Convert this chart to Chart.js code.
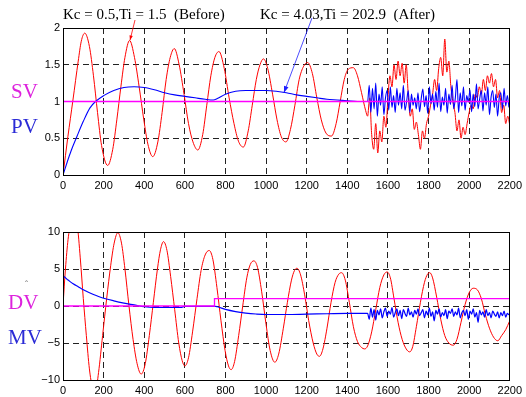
<!DOCTYPE html>
<html>
<head>
<meta charset="utf-8">
<script src="https://cdn.jsdelivr.net/npm/chart.js@4.4.1/dist/chart.umd.min.js"></script>
<style>
body { margin: 0; background: #fff; width: 526px; height: 397px; position: relative; overflow: hidden; }
canvas { position: absolute; left: 0; }
.t { position: absolute; font-family: 'Liberation Serif', serif; white-space: nowrap; line-height: 1; }
</style>
</head>
<body>
<canvas id="top_chart" width="526" height="205" style="top:0"></canvas>
<canvas id="bottom_chart" width="526" height="192" style="top:205px"></canvas>
<div class="t" style="left:63px;top:7px;font-size:15px">Kc = 0.5,Ti = 1.5&nbsp;&nbsp;(Before)</div>
<div class="t" style="left:260px;top:7px;font-size:15px">Kc = 4.03,Ti = 202.9&nbsp;&nbsp;(After)</div>
<div class="t" style="left:11px;top:81px;font-size:21px;color:#dd22dd">SV</div>
<div class="t" style="left:11px;top:116px;font-size:21px;color:#2b2bd6">PV</div>
<div class="t" style="left:25px;top:280px;font-size:9px;color:#666">ˆ</div>
<div class="t" style="left:8px;top:292px;font-size:21px;color:#dd22dd">DV</div>
<div class="t" style="left:8px;top:327px;font-size:21px;color:#2b2bd6">MV</div>
<script>
// x ticks shared by both plots
var xTicks = [0, 200, 400, 600, 800, 1000, 1200, 1400, 1600, 1800, 2000, 2200];

// ---- top plot: SV / PV ----
var svLine = [[0, 0], [0, 1], [2200, 1]];

// PV before retune (red), smooth part
var pvBefore = [[0, 0], [24, 0.52], [49, 1.02], [75, 1.55], [90, 1.82], [107, 1.93], [130, 1.75], [150, 1.35],
    [170, 0.85], [190, 0.4], [220, 0.13], [245, 0.35], [265, 0.75], [285, 1.2], [305, 1.6], [328, 1.83],
    [352, 1.6], [375, 1.2], [398, 0.75], [418, 0.42], [442, 0.25], [467, 0.45], [488, 0.85], [508, 1.3],
    [528, 1.6], [548, 1.72], [572, 1.5], [596, 1.1], [618, 0.7], [640, 0.45], [664, 0.34], [688, 0.55],
    [708, 0.95], [728, 1.35], [748, 1.6], [768, 1.68], [794, 1.45], [818, 1.05], [842, 0.7], [864, 0.46],
    [888, 0.38], [912, 0.6], [932, 0.95], [952, 1.3], [970, 1.5], [987, 1.58], [1008, 1.45], [1032, 1.1],
    [1054, 0.75], [1075, 0.52], [1098, 0.45], [1120, 0.62], [1142, 0.95], [1163, 1.3], [1185, 1.48],
    [1205, 1.53], [1228, 1.38], [1250, 1.05], [1272, 0.75], [1295, 0.57], [1322, 0.53], [1345, 0.7],
    [1365, 1.0], [1385, 1.3], [1405, 1.44], [1430, 1.46], [1450, 1.35], [1470, 1.12], [1490, 0.88]];
// PV before, noisy part from 1500, every 10
var pvBeforeNoise = [0.8, 1.05, 0.55, 0.35, 0.7, 0.3, 0.6, 0.45, 0.8, 0.65,
    1.05, 1.35, 1.2, 1.5, 1.3, 1.55, 1.35, 1.52, 1.25, 1.5,
    1.1, 0.8, 0.9, 0.62, 0.72, 0.55, 0.35, 0.6, 0.5, 0.7,
    0.8, 0.95, 1.1, 1.3, 1.15, 1.45, 1.6, 1.35, 1.85, 1.4,
    1.55, 1.2, 1.0, 0.85, 0.6, 0.75, 0.5, 0.65, 0.55, 0.7,
    0.85, 0.95, 0.9, 1.1, 1.05, 1.2, 1.1, 1.3, 1.15, 1.35,
    1.25, 1.38, 1.2, 1.3, 1.05, 1.15, 0.85, 0.95, 0.7, 0.8,
    0.68];

// PV after retune (blue), smooth part
var pvAfter = [[0, 0], [20, 0.17], [40, 0.33], [68, 0.52], [100, 0.73], [132, 0.91], [160, 1.0], [200, 1.08],
    [250, 1.15], [300, 1.19], [350, 1.2], [400, 1.19], [450, 1.16], [500, 1.12], [550, 1.09], [600, 1.07],
    [650, 1.05], [700, 1.03], [740, 1.02], [760, 1.04], [800, 1.1], [850, 1.14], [900, 1.15], [950, 1.15],
    [1000, 1.15], [1050, 1.14], [1100, 1.12], [1150, 1.09], [1200, 1.07], [1250, 1.05], [1300, 1.03],
    [1350, 1.02], [1400, 1.01], [1450, 1.0], [1495, 1.0]];
// PV after, noisy part from 1500, every 8
var pvAfterNoise = [1.0, 1.22, 0.85, 1.18, 0.9, 1.25, 0.8, 1.1, 0.95, 1.2, 0.82,
    1.05, 1.15, 0.88, 1.2, 0.92, 1.08, 0.85, 1.18, 0.95, 1.12, 0.9,
    1.22, 0.88, 1.0, 1.15, 0.85, 1.1, 0.95, 1.05, 0.9, 1.12, 0.86,
    1.04, 1.17, 0.93, 1.08, 0.84, 1.2, 0.97, 1.1, 0.88, 1.14, 0.92,
    1.25, 0.86, 1.06, 0.95, 1.18, 0.84, 1.1, 0.96, 1.22, 0.9, 1.05,
    1.3, 0.85, 1.12, 0.94, 1.2, 0.88, 1.08, 0.99, 1.16, 0.86, 1.1,
    0.93, 1.24, 0.9, 1.04, 1.15, 0.87, 1.12, 0.95, 1.2, 0.82, 1.06,
    1.15, 0.92, 1.1, 0.8, 1.05, 1.12, 0.9, 1.18, 0.94, 1.08, 0.92];

// where the two arrows point (x, y)
var beforeTip = [330, 1.82];
var afterTip = [1088, 1.12];

// ---- bottom plot: DV / MV ----
var dvLine = [[0, 0], [746, 0], [746, 1], [2200, 1]];

var mvBefore = [[0, 0], [12, 5], [25, 9], [40, 11.5], [55, 12], [70, 11], [85, 6.5], [100, 1], [115, -4],
    [130, -8.5], [145, -11], [160, -11.5], [175, -9], [195, -4], [215, 1], [235, 5.5], [252, 8.5], [270, 9.9],
    [288, 8.5], [305, 5], [325, 0], [345, -4.5], [365, -7.8], [385, -9.2], [405, -7.8], [425, -4], [445, 0.5],
    [465, 5], [480, 7.6], [495, 8.7], [512, 7.5], [530, 4], [550, -0.5], [570, -5], [587, -7.4], [600, -8.1],
    [618, -7], [638, -3.5], [660, 1], [680, 4.8], [700, 6.9], [720, 7.5], [738, 6.3], [758, 2.5], [778, -2],
    [798, -6], [815, -8.1], [828, -8.6], [845, -7.5], [865, -4], [885, 0], [905, 3.8], [922, 5.6], [940, 6.1],
    [958, 5.2], [978, 2], [1000, -2.5], [1020, -6], [1043, -7.6], [1062, -6.5], [1085, -3], [1105, 0.5],
    [1125, 3.5], [1140, 4.8], [1152, 5.1], [1170, 4.2], [1190, 1.5], [1210, -2], [1232, -5], [1250, -6.5],
    [1263, -6.8], [1280, -5.8], [1300, -3], [1320, 0.5], [1340, 3.2], [1358, 4.3], [1372, 4.5], [1390, 3.5],
    [1410, 0.5], [1430, -2.8], [1450, -4.8], [1470, -5.6], [1485, -5.8], [1500, -5.4], [1520, -3.5],
    [1540, -0.5], [1560, 2.5], [1580, 4.2], [1596, 4.6], [1612, 3.8], [1630, 1], [1650, -2.2], [1670, -4.5],
    [1690, -5.8], [1707, -6.2], [1722, -5.5], [1740, -2.8], [1760, 0.5], [1780, 3.2], [1795, 4.3], [1806, 4.5],
    [1820, 3.8], [1840, 1.2], [1860, -1.8], [1880, -4], [1900, -5], [1922, -5.3], [1940, -4.5], [1960, -2.2],
    [1980, 0.2], [2000, 1.8], [2020, 2.4], [2040, 2.2], [2060, 1.0], [2080, -1.2], [2100, -3], [2120, -4.2],
    [2141, -4.7], [2160, -4.0], [2180, -3.2], [2200, -2.0]];

var mvAfter = [[0, 0], [0, 4], [25, 3.5], [50, 3.0], [75, 2.6], [100, 2.2], [125, 1.85], [150, 1.55], [175, 1.28],
    [200, 1.05], [250, 0.7], [300, 0.4], [350, 0.15], [400, -0.1], [450, -0.2], [580, -0.2], [600, -0.05],
    [750, -0.05], [760, -0.1], [800, -0.45], [850, -0.75], [900, -0.95], [950, -1.08], [1000, -1.15],
    [1100, -1.15], [1200, -1.1], [1300, -1.05], [1400, -1.0], [1495, -1.0]];
// MV after, noisy part from 1500, every 8
var mvAfterNoise = [-1.0, -1.8, -0.3, -1.5, -0.5, -1.9, -0.6, -1.2, -0.4, -1.6, -0.8,
    -0.3, -1.4, -0.7, -1.1, -0.2, -1.5, -0.9, -0.4, -1.3, -0.6, -1.7,
    -0.5, -1.0, -1.4, -0.3, -1.2, -0.8, -1.5, -0.6, -1.1, -0.4, -1.3,
    -0.9, -0.5, -1.6, -0.7, -1.2, -0.3, -1.4, -0.8, -2.0, -0.6, -1.1,
    -0.4, -1.5, -0.9, -1.3, -0.5, -1.7, -0.7, -1.0, -0.4, -1.4, -0.8,
    -1.2, -0.3, -1.6, -0.9, -0.6, -1.3, -0.5, -1.8, -0.7, -1.1, -0.4,
    -1.5, -0.9, -2.2, -0.6, -1.2, -0.8, -1.5, -0.5, -1.3, -0.9, -1.6,
    -0.7, -1.1, -1.4, -0.8, -1.6, -0.9, -1.3, -0.7, -1.5, -1.0, -1.2];

function pts(pairs) {
    return pairs.map(function (p) { return { x: p[0], y: p[1] }; });
}
function joinNoise(pairs, noise, start, step) {
    var out = pts(pairs);
    noise.forEach(function (v, i) { out.push({ x: start + i * step, y: v }); });
    return out;
}

Chart.defaults.font.family = "'Liberation Sans', Arial, sans-serif";
Chart.defaults.font.size = 11;
Chart.defaults.color = '#000';

var boxPlugin = {
    id: 'box',
    afterDraw: function (chart) {
        var a = chart.chartArea, ctx = chart.ctx;
        ctx.save();
        ctx.strokeStyle = '#000';
        ctx.lineWidth = 1;
        ctx.strokeRect(Math.round(a.left) + 0.5, Math.round(a.top) + 0.5,
            Math.round(a.right - a.left) - 1, Math.round(a.bottom - a.top));
        ctx.restore();
    }
};

function drawArrow(ctx, x0, y0, x1, y1, color, head) {
    ctx.save();
    ctx.strokeStyle = color;
    ctx.fillStyle = color;
    ctx.lineWidth = 0.8;
    ctx.beginPath();
    ctx.moveTo(x0, y0);
    ctx.lineTo(x1, y1);
    ctx.stroke();
    var ang = Math.atan2(y1 - y0, x1 - x0);
    ctx.beginPath();
    ctx.moveTo(x1, y1);
    ctx.lineTo(x1 - head * Math.cos(ang - 0.35), y1 - head * Math.sin(ang - 0.35));
    ctx.lineTo(x1 - head * Math.cos(ang + 0.35), y1 - head * Math.sin(ang + 0.35));
    ctx.closePath();
    ctx.fill();
    ctx.restore();
}

var arrowPlugin = {
    id: 'arrows',
    afterDraw: function (chart) {
        var xs = chart.scales.x, ys = chart.scales.y, ctx = chart.ctx;
        drawArrow(ctx, 135, 20, xs.getPixelForValue(beforeTip[0]), ys.getPixelForValue(beforeTip[1]) - 1, '#ff0000', 5);
        drawArrow(ctx, 312, 18, xs.getPixelForValue(afterTip[0]), ys.getPixelForValue(afterTip[1]), '#2020ff', 7);
    }
};

function axes(yMin, yMax, yStep, xHeight, minus) {
    return {
        x: {
            type: 'linear', min: 0, max: 2200,
            afterBuildTicks: function (s) { s.ticks = xTicks.map(function (v) { return { value: v }; }); },
            afterFit: function (s) { s.height = xHeight; },
            grid: { color: '#222', lineWidth: 1, drawTicks: false },
            border: { display: false, dash: [6, 4] },
            ticks: { autoSkip: false, maxRotation: 0, padding: 4, callback: function (v) { return String(v); } }
        },
        y: {
            min: yMin, max: yMax,
            afterFit: function (s) { s.width = 63; },
            grid: { color: '#222', lineWidth: 1, drawTicks: false },
            border: { display: false, dash: [6, 4] },
            ticks: {
                stepSize: yStep, padding: 3,
                callback: function (v) { return minus ? String(v).replace('-', '\u2212') : String(v); }
            }
        }
    };
}

var TOP = document.getElementById('top_chart').getContext('2d');
var top_chart = new Chart(TOP, {
    type: 'line',
    data: {
        datasets: [
            { data: pts(svLine), borderColor: '#ff00ff', borderWidth: 1.5, tension: 0 },
            { data: joinNoise(pvAfter, pvAfterNoise, 1500, 8), borderColor: '#0000ff', borderWidth: 1.1, cubicInterpolationMode: 'monotone' },
            { data: joinNoise(pvBefore, pvBeforeNoise, 1500, 10), borderColor: '#ff0000', borderWidth: 1, cubicInterpolationMode: 'monotone' }
        ]
    },
    options: {
        responsive: false,
        animation: false,
        parsing: false,
        elements: { point: { radius: 0 } },
        layout: { padding: { left: 0, top: 28, right: 13, bottom: 0 } },
        plugins: { legend: { display: false }, tooltip: { enabled: false } },
        scales: axes(0, 2, 0.5, 30, false)
    },
    plugins: [boxPlugin, arrowPlugin]
});

var BOTTOM = document.getElementById('bottom_chart').getContext('2d');
var bottom_chart = new Chart(BOTTOM, {
    type: 'line',
    data: {
        datasets: [
            { data: pts(dvLine), borderColor: '#ff00ff', borderWidth: 1.3, tension: 0 },
            { data: joinNoise(mvAfter, mvAfterNoise, 1500, 8), borderColor: '#0000ff', borderWidth: 1.2, cubicInterpolationMode: 'monotone' },
            { data: pts(mvBefore), borderColor: '#ff0000', borderWidth: 1, cubicInterpolationMode: 'monotone' }
        ]
    },
    options: {
        responsive: false,
        animation: false,
        parsing: false,
        elements: { point: { radius: 0 } },
        layout: { padding: { left: 0, top: 27, right: 13, bottom: 0 } },
        plugins: { legend: { display: false }, tooltip: { enabled: false } },
        scales: axes(-10, 10, 5, 17, true)
    },
    plugins: [boxPlugin]
});
</script>
</body>
</html>
